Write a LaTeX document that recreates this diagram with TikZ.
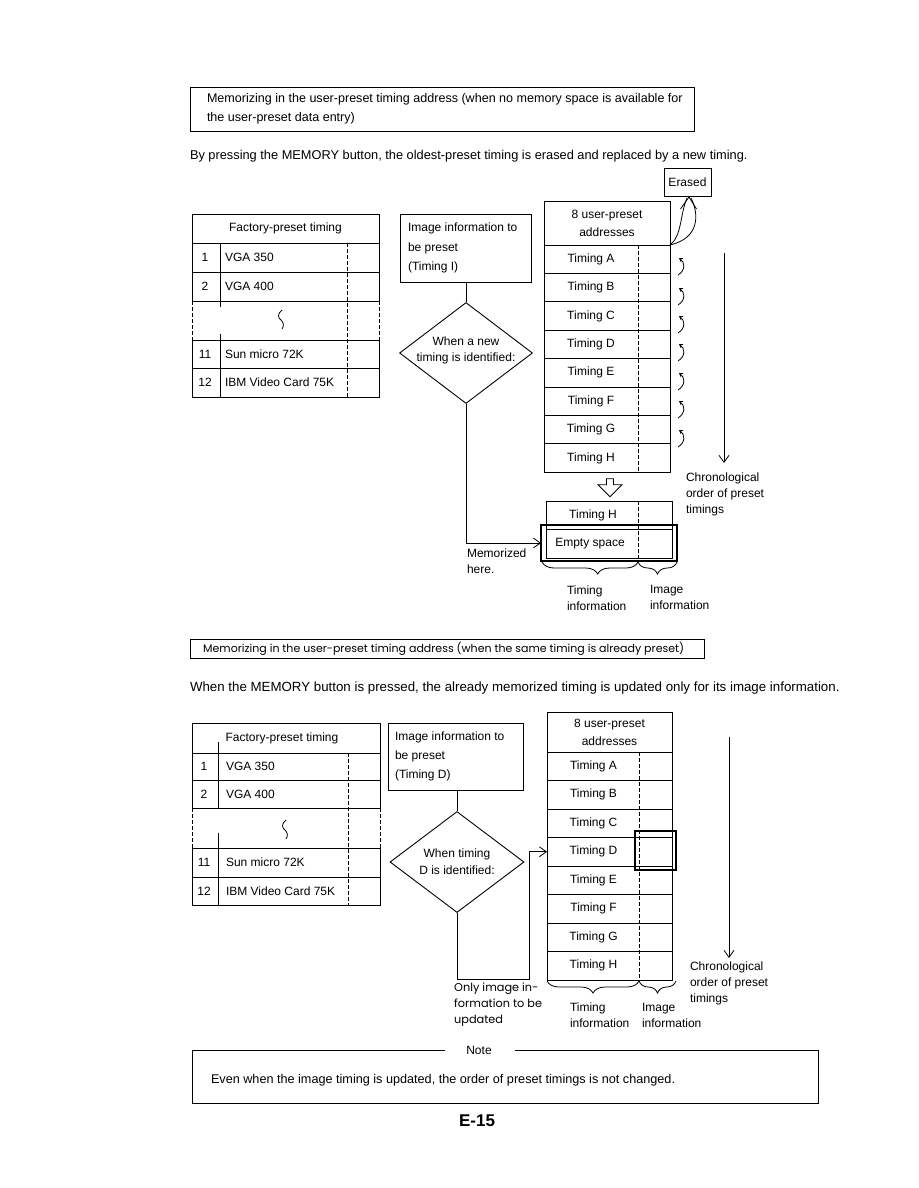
\documentclass[tikz,border=0pt]{standalone}
\usepackage{fontspec}
\setmainfont{Liberation Sans}
\newfontfamily\geofont{Poppins}
\usetikzlibrary{arrows.meta, positioning, calc, shapes.geometric, shapes.arrows, decorations.pathreplacing}

\begin{document}
\begin{tikzpicture}[
    x=1pt, y=-1pt,
    txt/.style={font=\fontsize{12}{16}\selectfont, inner sep=0pt, outer sep=0pt},
    ltxt/.style={txt, anchor=west, align=left},
    geo/.style={font=\geofont\fontsize{11}{16}\selectfont, inner sep=0pt, anchor=west, align=left},
    frame/.style={draw, line width=0.9pt, inner sep=0pt, outer sep=0pt, anchor=north west},
    cell/.style={frame, minimum width=126pt, minimum height=28.4pt},
    hilite/.style={draw, line width=1.8pt, inner sep=0pt, outer sep=0pt},
    decide/.style={draw, diamond, line width=0.9pt, minimum width=133pt, minimum height=101pt, inner sep=0pt},
    barb/.style={-{Straight Barb[length=7pt, width=10pt]}, line width=0.8pt},
    tinybarb/.style={-{Straight Barb[length=3pt, width=4pt]}, line width=0.8pt},
    brc/.style={decorate, decoration={brace, mirror, amplitude=12pt}, line width=0.8pt},
    dline/.style={dashed, dash pattern=on 4pt off 2pt, line width=0.8pt},
]
\fill[white] (0,0) rectangle (918,1188);
\useasboundingbox (0,0) rectangle (918,1188);

% ---------- Section 1: no memory space available ----------
\node[frame, minimum width=504pt, minimum height=44pt] (hdr1) at (190,87) {};
\node[ltxt, font=\fontsize{12.55}{19}\selectfont] (hdr1t) at ([xshift=17pt]hdr1.west)
    {Memorizing in the user-preset timing address (when no memory space is available for\\the user-preset data entry)};
\node[ltxt, font=\fontsize{12.8}{16}\selectfont] (intro1) at (190,156) {By pressing the MEMORY button, the oldest-preset timing is erased and replaced by a new timing.};

% Factory-preset table
\node[frame, minimum width=187pt, minimum height=29pt] (fhead) at (192,214) {};
\node[txt] (fheadt) at (fhead.center) {Factory-preset timing};
\node[frame, minimum width=187pt, minimum height=29pt] (f1) at (192,243) {};
\node[frame, minimum width=187pt, minimum height=29pt] (f2) at (192,272) {};
\node[frame, minimum width=187pt, minimum height=28pt] (f11) at (192,340) {};
\node[frame, minimum width=187pt, minimum height=29pt] (f12) at (192,368) {};
\foreach \r/\n/\t in {f1/1/VGA 350, f2/2/VGA 400, f11/11/Sun micro 72K, f12/12/IBM Video Card 75K} {
    \node[txt] (\r n) at (\r.west -| 205,0) {\n};
    \node[ltxt] (\r t) at (\r.west -| 225,0) {\t};
}
\draw[line width=0.9pt] (220,243) -- (220,307);
\draw[line width=0.9pt] (220,334) -- (220,397);
\draw[dline] (347,243) -- (347,397);
\draw[dline] (192,301) -- (192,340);
\draw[dline] (379,301) -- (379,340);
\draw[line width=0.8pt] (282,310) .. controls (277,314) and (278,318) .. (281,320) .. controls (284,323) and (284,326) .. (282,329);

% Image information and decision
\node[frame, minimum width=131pt, minimum height=68pt] (img1) at (400,214) {};
\node[ltxt, font=\fontsize{12}{19.5}\selectfont] (img1t) at ([xshift=8pt]img1.west) {Image information to\\be preset\\(Timing I)};
\node[decide] (dia1) at (466,353) {};
\node[txt, align=center] (dia1t) at (466,350) {When a new\\timing is identified:};
\draw[line width=0.9pt] (dia1.north) -- (dia1.north |- img1.south);

% 8 user-preset addresses
\node[frame, minimum width=126pt, minimum height=44pt] (uhead) at (544,201) {};
\node[txt, align=center, font=\fontsize{12}{18}\selectfont] (uheadt) at (uhead.center) {8 user-preset\\addresses};
\foreach \t [count=\i from 0] in {A,B,C,D,E,F,G,H} {
    \node[cell] (u\t) at (544,{245+28.4*\i}) {};
    \node[txt] (ut\t) at ($(u\t.center)+(-16,0)$) {Timing \t};
}
\draw[dline] (638,245) -- (638,472);
\foreach \y in {266,296,324,352,381,409,438}
    \draw[tinybarb] (678,{\y+9}) .. controls (686,{\y+4}) and (685,{\y-4}) .. (679,{\y-8});

% Erased
\node[frame, anchor=center, minimum width=47pt, minimum height=28pt, txt, draw] (erased) at (687.5,182) {Erased};
\draw[line width=0.8pt] (uhead.south east) .. controls (682,236) and (680,214) .. (687,198);
\draw[line width=0.8pt] (uhead.south east) .. controls (700,238) and (699,214) .. (691,198);
\draw[line width=0.8pt] ($(erased.south)+(-7,13)$) -- ($(erased.south)+(1.5,1)$) -- ($(erased.south)+(9,13)$);

% Chronological order
\coordinate (ctop) at (724,253);
\coordinate (cbot) at (724,463);
\draw[barb] (ctop) -- (cbot);
\node[ltxt, anchor=north west] (chron1) at (686,473) {Chronological\\order of preset\\timings};

% Shifted table
\node[draw, single arrow, shape border rotate=270, line width=0.8pt, minimum height=18pt, minimum width=24pt,
      single arrow head extend=6pt, inner sep=2pt] (shift) at (610,486) {};
\node[cell, minimum height=28.5pt] (lH) at (546,501) {};
\node[cell, minimum height=28.5pt] (lE) at (546,529.5) {};
\node[txt] (lHt) at ($(lH.center)+(-16,0)$) {Timing H};
\node[txt] (lEt) at ($(lE.center)+(-19,0)$) {Empty space};
\draw[dline] (638,501) -- (638,558);
\node[hilite, minimum width=136pt, minimum height=36pt] (hl1) at (609,543) {};
\draw[barb] (dia1.south) |- (hl1.west);
\node[ltxt, anchor=north west] (memo) at (467,549) {Memorized\\here.};

% Braces
\draw[brc, decoration={aspect=0.58}] (542,562) -- (638,562);
\draw[brc] (638,562) -- (677,562);
\node[ltxt, anchor=north west] (ti1) at (567,586) {Timing\\information};
\node[ltxt, anchor=north west] (ii1) at (650,585) {Image\\information};

% ---------- Section 2: same timing already preset ----------
\node[frame, minimum width=514pt, minimum height=19pt] (hdr2) at (190,639) {};
\node[geo] (hdr2t) at ([xshift=13pt]hdr2.west) {Memorizing in the user-preset timing address (when the same timing is already preset)};
\node[ltxt, font=\fontsize{13.3}{16}\selectfont] (intro2) at (190,688) {When the MEMORY button is pressed, the already memorized timing is updated only for its image information.};

% Factory-preset table
\node[frame, minimum width=188pt, minimum height=30pt] (ghead) at (192,723) {};
\node[txt] (gheadt) at (282,738) {Factory-preset timing};
\node[frame, minimum width=188pt, minimum height=27pt] (g1) at (192,753) {};
\node[frame, minimum width=188pt, minimum height=28pt] (g2) at (192,780) {};
\node[frame, minimum width=188pt, minimum height=29pt] (g11) at (192,848) {};
\node[frame, minimum width=188pt, minimum height=28pt] (g12) at (192,877) {};
\foreach \r/\n/\t in {g1/1/VGA 350, g2/2/VGA 400, g11/11/Sun micro 72K, g12/12/IBM Video Card 75K} {
    \node[txt] (\r n) at (\r.west -| 204,0) {\n};
    \node[ltxt] (\r t) at (\r.west -| 226,0) {\t};
}
\draw[line width=0.9pt] (218,742) -- (218,808);
\draw[line width=0.9pt] (218,833) -- (218,905);
\draw[dline] (348,753) -- (348,905);
\draw[dline] (192,808) -- (192,848);
\draw[dline] (380,808) -- (380,848);
\draw[line width=0.8pt] (286,820) .. controls (281,824) and (282,828) .. (285,830) .. controls (288,833) and (288,836) .. (286,839);

% Image information and decision
\node[frame, minimum width=135pt, minimum height=67pt] (img2) at (388,723) {};
\node[ltxt, font=\fontsize{12}{19}\selectfont] (img2t) at ([xshift=7pt]img2.west) {Image information to\\be preset\\(Timing D)};
\node[decide, minimum width=134pt] (dia2) at (457,862) {};
\node[txt, align=center, font=\fontsize{12}{17}\selectfont] (dia2t) at (457,862) {When timing\\D is identified:};
\draw[line width=0.9pt] (dia2.north) -- (dia2.north |- img2.south);

% 8 user-preset addresses
\node[frame, minimum width=125pt, minimum height=40pt] (vhead) at (547,712) {};
\node[txt, align=center, font=\fontsize{12}{18}\selectfont] (vheadt) at (vhead.center) {8 user-preset\\addresses};
\foreach \t [count=\i from 0] in {A,B,C,D,E,F,G,H} {
    \node[cell, minimum width=125pt, minimum height=28.5pt] (v\t) at (547,{752+28.5*\i}) {};
    \node[txt] (vt\t) at ($(v\t.center)+(-16,0)$) {Timing \t};
}
\draw[dline] (639,752) -- (639,980);
\node[hilite, minimum width=41pt, minimum height=39pt] (hl2) at (655.5,850.5) {};
\coordinate (turn2) at (529,979);
\draw[barb] (dia2.south) |- (turn2) |- (vD.west);
\node[geo, anchor=north west, font=\geofont\fontsize{11.3}{16}\selectfont] (upd) at (454,983) {Only image in-\\formation to be\\updated};

% Braces
\draw[brc] (547,981) -- (639,981);
\draw[brc] (639,981) -- (676,981);
\node[ltxt, anchor=north west] (ti2) at (570,1003) {Timing\\information};
\node[ltxt, anchor=north west] (ii2) at (642,1003) {Image\\information};

% Chronological order
\coordinate (dtop) at (729,737);
\coordinate (dbot) at (729,958);
\draw[barb] (dtop) -- (dbot);
\node[ltxt, anchor=north west] (chron2) at (690,962) {Chronological\\order of preset\\timings};

% ---------- Note ----------
\node[txt] (note) at (479,1050) {Note};
\draw[line width=0.9pt] (note.west) ++(-21,0) -- (192,1050) -- (192,1103) -- (818,1103) -- (818,1050) -- ($(note.east)+(23,0)$);
\node[ltxt, font=\fontsize{12.65}{16}\selectfont] (notet) at (211,1080) {Even when the image timing is updated, the order of preset timings is not changed.};
\node[txt, font=\fontsize{17}{20}\selectfont\bfseries] (page) at (477,1121) {E-15};
\end{tikzpicture}
\end{document}
